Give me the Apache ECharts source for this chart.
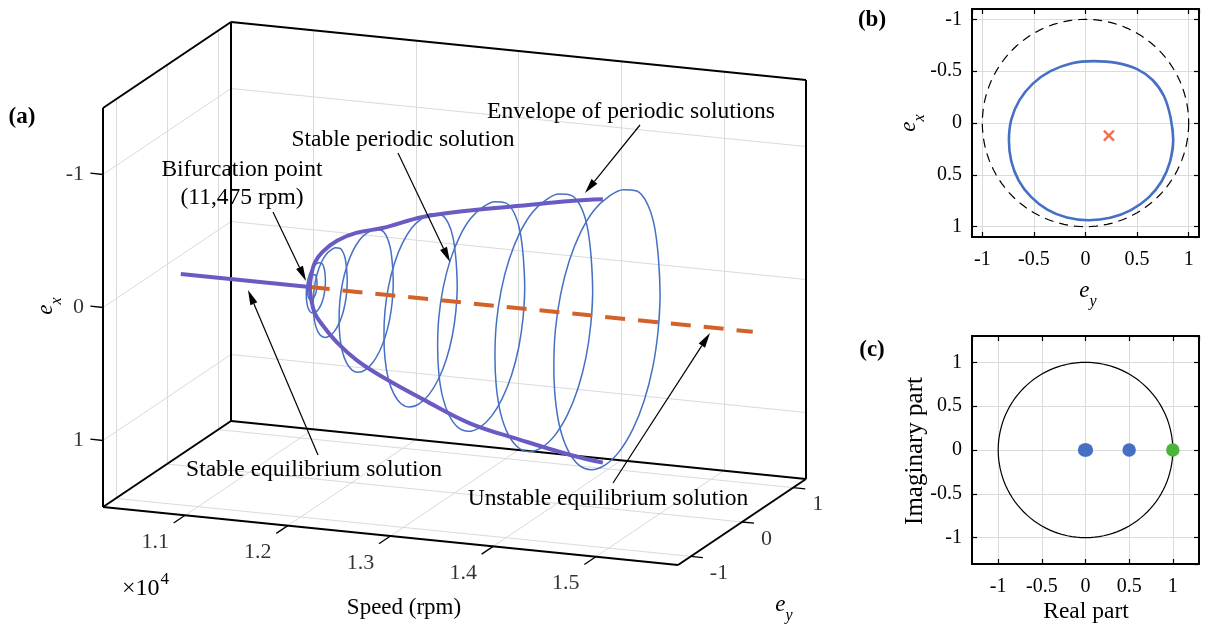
<!DOCTYPE html>
<html><head><meta charset="utf-8">
<script src="https://cdn.jsdelivr.net/npm/echarts@6/dist/echarts.min.js"></script>
<style>html,body{margin:0;padding:0;background:#fff}#c{width:1208px;height:629px}</style>
</head><body><div id="c"></div>
<script>
// ================= DATA =================
// (a) 3-D bifurcation diagram
const speedLimits = [10200, 15800];
const eyLimits = [-1.25, 1.25];
const exLimits = [-1.5, 1.5];
const speedTicks = [11000, 12000, 13000, 14000, 15000];
const speedTickLabels = ['1.1', '1.2', '1.3', '1.4', '1.5'];
const exTicks = [-1, 0, 1];
const exTickLabels = ['-1', '0', '1'];
const eyTicks = [-1, 0, 1];
const eyTickLabels = ['-1', '0', '1'];

const stableEqSpeed = [10220, 11475];
const stableEqEy = [0.23, 0.23];
const stableEqEx = [0.13, 0.13];
const unstableEqSpeed = [11475, 15790];
const unstableEqEy = [0.23, 0.23];
const unstableEqEx = [0.13, 0.13];

const envSpeed = [11475, 11490, 11530, 11610, 11760, 11960, 12220, 12620, 13090, 13590, 14090, 14410];
const envEy = [0.23, 0.23, 0.22, 0.21, 0.2, 0.18, 0.16, 0.14, 0.12, 0.1, 0.08, 0.07];
const envTopEx = [0.13, 0.04, -0.06, -0.15, -0.25, -0.33, -0.39, -0.51, -0.6, -0.68, -0.76, -0.8];
const envBottomEx = [0.13, 0.22, 0.32, 0.4, 0.52, 0.63, 0.73, 0.86, 1.0, 1.08, 1.15, 1.18];

const orbitSpeed = [11500, 11540, 11690, 12050, 12600, 13200, 13820, 14450];
const orbitRadius = [0.09, 0.18, 0.32, 0.51, 0.69, 0.82, 0.92, 1.0];
const orbitCenterEy = [0.23, 0.22, 0.2, 0.18, 0.14, 0.12, 0.1, 0.07];
const orbitCenterEx = [0.13, 0.13, 0.15, 0.18, 0.2, 0.195, 0.19, 0.185];

// (b) orbit in the ey-ex plane
const orbitBEy = [0.85, 0.82, 0.74, 0.61, 0.44, 0.24, 0.03, -0.18, -0.37, -0.53, -0.65, -0.72, -0.742, -0.72, -0.64, -0.51, -0.34, -0.14, 0.08, 0.30, 0.50, 0.65, 0.76, 0.825];
const orbitBEx = [0.17, 0.37, 0.56, 0.72, 0.84, 0.915, 0.938, 0.912, 0.835, 0.71, 0.55, 0.365, 0.17, -0.03, -0.22, -0.38, -0.5, -0.575, -0.597, -0.58, -0.52, -0.415, -0.26, -0.05];
const equilibriumBEy = [0.227];
const equilibriumBEx = [0.122];
const clearanceRadius = 1;

// (c) Floquet multipliers
const multReal = [-0.01, 0.01, 0.5];
const multImag = [0, 0, 0];
const criticalReal = [1];
const criticalImag = [0];
const unitRadius = 1;

// ================= LAYOUT / STYLE =================
const FONT = 'Liberation Serif';
const BOX = {ox: 103, oy: 108, sx: 575, sy: 58, yx: 128, yy: -86, zx: 0, zy: 399};
const C = {grid: '#dadada', blue: '#4570C4', purple: '#6A5BC2', orange: '#D2622A', red: '#F04A23', green: '#4CB33C'};

function proj(s, ey, ex) {
  const a = (s - speedLimits[0]) / (speedLimits[1] - speedLimits[0]);
  const b = (ey - eyLimits[0]) / (eyLimits[1] - eyLimits[0]);
  const c = (ex - exLimits[0]) / (exLimits[1] - exLimits[0]);
  return [BOX.ox + a * BOX.sx + b * BOX.yx + c * BOX.zx, BOX.oy + a * BOX.sy + b * BOX.yy + c * BOX.zy];
}
const [s0, s1] = speedLimits, [y0, y1] = eyLimits, [z0, z1] = exLimits;

const gridSegs = [];
speedTicks.forEach(s => { gridSegs.push([proj(s, y1, z0), proj(s, y1, z1)]); gridSegs.push([proj(s, y0, z1), proj(s, y1, z1)]); });
exTicks.forEach(z => { gridSegs.push([proj(s0, y1, z), proj(s1, y1, z)]); gridSegs.push([proj(s0, y0, z), proj(s0, y1, z)]); });
eyTicks.forEach(y => { gridSegs.push([proj(s0, y, z0), proj(s0, y, z1)]); gridSegs.push([proj(s0, y, z1), proj(s1, y, z1)]); });

const boxSegs = [
  [proj(s0, y0, z0), proj(s0, y0, z1)], [proj(s0, y1, z0), proj(s0, y1, z1)],
  [proj(s0, y0, z0), proj(s0, y1, z0)], [proj(s0, y0, z1), proj(s0, y1, z1)],
  [proj(s1, y1, z0), proj(s1, y1, z1)], [proj(s0, y1, z0), proj(s1, y1, z0)],
  [proj(s0, y1, z1), proj(s1, y1, z1)], [proj(s0, y0, z1), proj(s1, y0, z1)],
  [proj(s1, y0, z1), proj(s1, y1, z1)]
];
const tickSegs = [];
speedTicks.forEach(s => tickSegs.push([proj(s, y0, z1), proj(s, y0 - 0.09 * (y1 - y0), z1)]));
eyTicks.forEach(y => tickSegs.push([proj(s1, y, z1), proj(s1 + 0.021 * (s1 - s0), y, z1)]));
exTicks.forEach(z => tickSegs.push([proj(s0, y0, z), proj(s0 - 0.022 * (s1 - s0), y0, z)]));

const tickLabelData = [];
speedTicks.forEach((s, i) => { const p = proj(s, y0, z1); tickLabelData.push({value: [p[0] - 30, p[1] + 27], name: speedTickLabels[i], label: {align: 'center'}}); });
eyTicks.forEach((y, i) => { const p = proj(s1, y, z1); tickLabelData.push({value: [p[0] + 19, p[1] + 17], name: eyTickLabels[i], label: {align: 'left'}}); });
exTicks.forEach((z, i) => { const p = proj(s0, y0, z); tickLabelData.push({value: [p[0] - 19, p[1]], name: exTickLabels[i], label: {align: 'right'}}); });

// orbits in (a): orbit shape of panel (b), scaled to each orbit's amplitude
const tEyC = (Math.max(...orbitBEy) + Math.min(...orbitBEy)) / 2;
const tExC = (Math.max(...orbitBEx) + Math.min(...orbitBEx)) / 2;
const tHalf = (Math.max(...orbitBEx) - Math.min(...orbitBEx)) / 2;
function closeLoop(pts) { return [pts[pts.length - 1]].concat(pts, [pts[0], pts[1]]); }
const orbitSeries = orbitSpeed.map((s, i) => {
  const pts = orbitBEy.map((u, k) => proj(s, orbitCenterEy[i] + (u - tEyC) / tHalf * orbitRadius[i], orbitCenterEx[i] + (orbitBEx[k] - tExC) / tHalf * orbitRadius[i]));
  return {type: 'line', xAxisIndex: 0, yAxisIndex: 0, data: closeLoop(pts), smooth: 0.35, showSymbol: false, silent: true, z: 3,
    lineStyle: {color: C.blue, width: 1.5}};
});

const envTop = envSpeed.map((s, i) => proj(s, envEy[i], envTopEx[i]));
const envBot = envSpeed.map((s, i) => proj(s, envEy[i], envBottomEx[i]));
const stableLine = stableEqSpeed.map((s, i) => proj(s, stableEqEy[i], stableEqEx[i]));
const unstableLine = unstableEqSpeed.map((s, i) => proj(s, unstableEqEy[i], unstableEqEx[i]));

function circlePts(r) { const a = []; for (let k = 0; k <= 120; k++) { const t = k / 120 * 2 * Math.PI; a.push([r * Math.cos(t), r * Math.sin(t)]); } return a; }
const orbitB = closeLoop(orbitBEy.map((u, k) => [u, orbitBEx[k]]));

function segSeries(segs, color, width, z) {
  return {type: 'lines', coordinateSystem: 'cartesian2d', xAxisIndex: 0, yAxisIndex: 0, silent: true, z,
    data: segs.map(c => ({coords: c})), lineStyle: {color, width, opacity: 1, type: 'solid'}, symbol: 'none'};
}

function boxAxis(gridIndex, pos, min, max, inverse, main) {
  const horizontal = pos === 'bottom' || pos === 'top';
  return {gridIndex, type: 'value', position: pos, min, max, inverse: !!inverse, splitNumber: 5,
    axisLine: {show: true, onZero: false, lineStyle: {color: '#000', width: 2}},
    axisTick: {show: true, inside: true, length: 5, lineStyle: {color: '#000', width: 1.2}},
    axisLabel: {show: main, color: '#000', fontFamily: FONT, fontSize: 20, margin: horizontal ? 13 : 10, showMinLabel: false, showMaxLabel: false},
    splitLine: {show: main, lineStyle: {color: C.grid, width: 1}}};
}

function txt(x, y, text, size, extra, elExtra) {
  return Object.assign({type: 'text', x, y, silent: true, z: 100,
    style: Object.assign({text, fontFamily: FONT, fontSize: size, fill: '#000', align: 'center', verticalAlign: 'middle'}, extra || {})}, elExtra || {});
}
function arrow(x1, y1, x2, y2) {
  const dx = x2 - x1, dy = y2 - y1, len = Math.hypot(dx, dy), ux = dx / len, uy = dy / len;
  const L = 15, W = 3.8, bx = x2 - ux * L, by = y2 - uy * L;
  return [
    {type: 'line', silent: true, z: 100, shape: {x1, y1, x2: bx, y2: by}, style: {stroke: '#000', lineWidth: 1.2}},
    {type: 'polygon', silent: true, z: 100, shape: {points: [[x2, y2], [bx - uy * W, by + ux * W], [bx + uy * W, by - ux * W]]}, style: {fill: '#000'}}
  ];
}
function sub(main, s, size) {
  return {text: `{e|${main}}{s|${s}}`, rich: {
    e: {fontFamily: FONT, fontSize: size, fontStyle: 'italic'},
    s: {fontFamily: FONT, fontSize: Math.round(size * 0.7), fontStyle: 'italic', padding: [Math.round(size * 0.9), 0, 0, 0]}}};
}
const ANN = 23.5;

const option = {
  animation: false,
  backgroundColor: '#fff',
  grid: [
    {left: 0, top: 0, width: 850, height: 629, show: false},
    {left: 972, top: 9, width: 227, height: 228, show: false},
    {left: 972, top: 336, width: 227, height: 228, show: false}
  ],
  xAxis: [
    {gridIndex: 0, type: 'value', min: 0, max: 850, show: false},
    boxAxis(1, 'bottom', -1.1, 1.1, false, true),
    boxAxis(1, 'top', -1.1, 1.1, false, false),
    boxAxis(2, 'bottom', -1.3, 1.3, false, true),
    boxAxis(2, 'top', -1.3, 1.3, false, false)
  ],
  yAxis: [
    {gridIndex: 0, type: 'value', min: 0, max: 629, inverse: true, show: false},
    boxAxis(1, 'left', -1.1, 1.1, true, true),
    boxAxis(1, 'right', -1.1, 1.1, true, false),
    boxAxis(2, 'left', -1.3, 1.3, false, true),
    boxAxis(2, 'right', -1.3, 1.3, false, false)
  ],
  series: [
    segSeries(gridSegs, C.grid, 1, 1),
    segSeries(boxSegs, '#000', 2, 2),
    segSeries(tickSegs, '#000', 1.3, 2),
    {type: 'scatter', xAxisIndex: 0, yAxisIndex: 0, symbolSize: 0, silent: true, z: 5, data: tickLabelData,
      label: {show: true, position: 'inside', formatter: '{b}', color: '#000', fontFamily: FONT, fontSize: 22, verticalAlign: 'middle'}},
    ...orbitSeries,
    {type: 'line', xAxisIndex: 0, yAxisIndex: 0, data: unstableLine, showSymbol: false, silent: true, z: 4,
      lineStyle: {color: C.orange, width: 4, type: [20, 13]}},
    {type: 'line', xAxisIndex: 0, yAxisIndex: 0, data: stableLine, showSymbol: false, silent: true, z: 5,
      lineStyle: {color: C.purple, width: 4}},
    {type: 'line', xAxisIndex: 0, yAxisIndex: 0, data: envTop, smooth: 0.4, showSymbol: false, silent: true, z: 5,
      lineStyle: {color: C.purple, width: 4}},
    {type: 'line', xAxisIndex: 0, yAxisIndex: 0, data: envBot, smooth: 0.4, showSymbol: false, silent: true, z: 5,
      lineStyle: {color: C.purple, width: 4}},
    // (b)
    {type: 'line', xAxisIndex: 1, yAxisIndex: 1, data: circlePts(clearanceRadius), showSymbol: false, silent: true, z: 3,
      lineStyle: {color: '#000', width: 1.2, type: [9, 6]}},
    {type: 'line', xAxisIndex: 1, yAxisIndex: 1, data: orbitB, smooth: 0.35, showSymbol: false, silent: true, z: 4,
      lineStyle: {color: C.blue, width: 2.6}},
    {type: 'scatter', xAxisIndex: 1, yAxisIndex: 1, data: equilibriumBEy.map((u, i) => [u, equilibriumBEx[i]]), silent: true, z: 5,
      symbol: 'path://M0,0L10,10M10,0L0,10', symbolSize: 10, itemStyle: {color: 'none', borderColor: C.red, borderWidth: 2.4}},
    // (c)
    {type: 'line', xAxisIndex: 3, yAxisIndex: 3, data: circlePts(unitRadius), showSymbol: false, silent: true, z: 3,
      lineStyle: {color: '#000', width: 1.2}},
    {type: 'scatter', xAxisIndex: 3, yAxisIndex: 3, data: multReal.map((r, i) => [r, multImag[i]]), symbolSize: 13.5, silent: true, z: 5,
      itemStyle: {color: C.blue, opacity: 1}},
    {type: 'scatter', xAxisIndex: 3, yAxisIndex: 3, data: criticalReal.map((r, i) => [r, criticalImag[i]]), symbolSize: 13.5, silent: true, z: 5,
      itemStyle: {color: C.green, opacity: 1}}
  ],
  graphic: [
    txt(22, 117, '(a)', 23, {fontWeight: 'bold'}),
    txt(872, 20, '(b)', 23, {fontWeight: 'bold'}),
    txt(872, 350, '(c)', 23, {fontWeight: 'bold'}),
    txt(242, 170, 'Bifurcation point', ANN),
    txt(242, 198, '(11,475 rpm)', ANN),
    txt(403, 140, 'Stable periodic solution', ANN),
    txt(631, 112, 'Envelope of periodic solutions', ANN),
    txt(314, 470, 'Stable equilibrium solution', ANN),
    txt(608, 499, 'Unstable equilibrium solution', ANN),
    txt(404, 608, 'Speed (rpm)', 23),
    txt(122, 589, '', 24, {align: 'left', text: '{a|×10}{b|4}', rich: {a: {fontFamily: FONT, fontSize: 24}, b: {fontFamily: FONT, fontSize: 17, padding: [0, 0, 18, 1]}}}),
    txt(784, 605, '', 23, sub('e', 'y', 23)),
    txt(46, 306, '', 23, sub('e', 'x', 23), {rotation: Math.PI / 2}),
    txt(1088, 291, '', 23, sub('e', 'y', 23)),
    txt(909, 123, '', 23, sub('e', 'x', 23), {rotation: Math.PI / 2}),
    txt(1086, 612, 'Real part', 23.5),
    txt(915, 451, 'Imaginary part', 25, {}, {rotation: Math.PI / 2}),
    ...arrow(273, 212, 306, 281),
    ...arrow(398, 153, 450, 262),
    ...arrow(640, 125, 585, 193),
    ...arrow(318, 455, 248, 290),
    ...arrow(613, 483, 710, 333)
  ]
};
const chart = echarts.init(document.getElementById('c'), null, {renderer: 'canvas'});
chart.setOption(option);
</script></body></html>
